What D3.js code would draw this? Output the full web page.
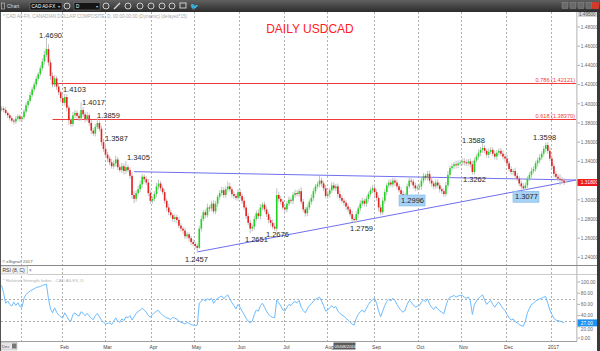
<!DOCTYPE html>
<html><head><meta charset="utf-8">
<script src="https://cdn.jsdelivr.net/npm/d3@7"></script>
<style>
html,body{margin:0;padding:0;background:#fff;overflow:hidden}
svg{display:block;font-family:"Liberation Sans",Arial,sans-serif}
</style></head><body>
<svg id="c" width="600" height="351"></svg>
<script>
// ---------- DATA ----------
const firstOpen = 1.3940;
const closes = [
1.3950,1.3935,1.3905,1.3880,1.3850,1.3825,1.3815,1.3845,1.3870,1.3840,
1.3860,1.3920,1.3985,1.4030,1.4090,1.4150,1.4200,1.4260,1.4310,1.4370,1.4440,1.4510,1.4570,1.4430,1.4290,1.4200,1.4265,1.4180,1.4120,1.4060,
1.4010,1.4070,1.3960,1.3830,1.3790,1.3880,1.3905,1.3875,1.3850,1.3935,1.3890,1.3840,1.3880,1.3800,1.3720,1.3690,1.3760,1.3800,1.3740,1.3600,1.3530,
1.3470,1.3430,1.3390,1.3350,1.3380,1.3420,1.3340,1.3310,1.3350,1.3300,1.3340,1.3310,1.3250,1.3050,1.3010,1.3070,1.3110,1.3160,1.3240,1.3215,1.3180,1.3070,1.2990,
1.3010,1.3060,1.3140,1.3170,1.3120,1.3080,1.2990,1.2920,1.2870,1.2840,1.2800,1.2820,1.2790,1.2730,1.2700,1.2680,1.2620,1.2640,1.2600,1.2560,1.2540,
1.2520,1.2500,1.2700,1.2800,1.2870,1.2840,1.2920,1.2910,1.2960,1.2880,1.2960,1.3030,1.3070,1.3100,1.3050,1.3110,1.3140,1.3110,1.3060,1.3040,1.3020,1.3080,
1.3040,1.2990,1.2920,1.2830,1.2760,1.2700,1.2720,1.2800,1.2860,1.2830,1.2920,1.2950,1.2900,1.2850,1.2790,1.2760,1.2720,1.2700,1.3050,1.3010,1.2980,1.2920,
1.2900,1.2960,1.3000,1.2990,1.3050,1.3070,1.3060,1.3090,1.2980,1.2900,1.2860,1.2920,1.2980,1.3020,1.3090,1.3140,1.3160,1.3200,1.3170,1.3120,1.3040,
1.3060,1.3100,1.3150,1.3120,1.3140,1.3060,1.3020,1.2990,1.2970,1.2930,1.2900,1.2850,1.2800,1.2790,1.2850,1.2910,1.2960,1.2990,1.2960,1.3010,1.3060,1.3100,1.3120,
1.3080,1.3020,1.2920,1.2870,1.2990,1.3080,1.3150,1.3180,1.3160,1.3200,1.3180,1.3140,1.3100,1.3060,1.3030,1.3050,1.3140,1.3200,1.3190,1.3150,1.3120,1.3130,
1.3140,1.3200,1.3250,1.3230,1.3270,1.3200,1.3170,1.3140,1.3180,1.3150,1.3110,1.3090,1.3060,1.3150,1.3260,1.3330,1.3350,1.3370,1.3360,1.3380,1.3390,
1.3400,1.3390,1.3380,1.3400,1.3370,1.3290,1.3410,1.3450,1.3490,1.3520,1.3540,1.3510,1.3470,1.3500,1.3520,1.3480,1.3450,1.3490,1.3510,1.3480,1.3450,1.3430,
1.3380,1.3320,1.3290,1.3300,1.3250,1.3220,1.3170,1.3140,1.3120,1.3150,1.3220,1.3260,1.3300,1.3320,1.3380,1.3410,1.3440,1.3480,1.3530,1.3570,1.3510,1.3430,
1.3350,1.3270,1.3240,1.3220,1.3210,1.3200,1.3180];
const upperWickPips = [
25,20,30,15,20,25,18,30,22,20, 20,25,30,20,35,25,30,28,22,30, 35,40,120,50,30,40,35,25,30,20,
40,33,30,25,20,35,30,25,30,82, 30,25,35,20,30,25,30,59,25,30, 35,57,30,25,35,30,40,25,30,35,
30,65,25,30,35,40,30,35,40,30, 25,30,35,30,25,30,35,40,25,30, 30,25,35,30,20,30,25,30,25,20,
30,25,20,25,30,20,25,30,35,25, 30,40,25,30,35,30,25,30,35,30, 30,50,35,25,30,25,30,35,25,30,
25,30,30,25,35,30,40,35,25,30, 30,25,30,35,40,70,35,30,25,30, 30,35,25,30,35,30,25,40,30,25,
30,25,35,30,25,30,50,30,25,35, 30,25,35,30,25,30,35,25,30,25, 30,25,35,20,30,25,35,30,25,30,
25,30,35,40,30,25,30,35,30,25, 30,35,30,25,30,25,30,35,25,30, 35,30,25,30,25,30,35,30,25,30,
35,30,25,30,35,30,25,30,35,40, 25,30,25,35,30,25,30,35,30,25, 30,35,30,25,35,30,48,30,25,35,
30,25,35,30,25,30,35,30,40,25, 30,25,35,30,25,30,35,30,25,30, 35,30,25,30,35,25,30,28,30,40,
35,30,25,30,45,30,25];
const lowerWickPips = [
20,25,20,30,25,20,30,25,20,25, 30,25,20,30,25,20,30,25,20,25, 25,30,25,35,40,30,25,35,30,40,
35,30,40,50,30,25,30,35,30,25, 30,35,25,30,35,25,30,25,30,35, 30,25,35,30,25,30,35,30,25,30,
35,30,25,30,40,45,30,25,30,35, 30,25,30,35,30,25,30,35,30,25, 30,35,30,25,30,35,30,25,30,35,
30,25,35,30,25,30,43,10,30,25, 30,25,35,30,25,30,35,30,25,30, 30,25,30,35,30,25,30,35,30,25,
30,25,49,30,35,25,30,35,30,25, 30,35,30,25,24,30,35,30,25,30, 30,25,30,35,30,25,30,25,30,35,
30,25,30,35,30,25,30,35,30,25, 30,35,30,25,30,35,30,25,30,35, 30,25,30,31,30,35,30,25,30,35,
30,25,30,35,30,40,30,25,30,35, 30,25,30,35,30,25,30,35,34,30, 25,30,35,30,25,30,35,30,25,30,
30,35,30,25,30,35,30,30,25,30, 30,25,30,35,30,25,30,35,30,25, 30,28,30,25,30,35,30,25,30,35,
30,25,30,35,30,25,30,35,30,25, 30,35,30,25,30,35,43,20,30,25, 30,25,30,35,30,25,30,35,30,25,
30,35,30,25,60,30,25];
const rsiValues = [
94,80,62,66,60,57,64,58,63,56, 55,71,78,81,84,86,88,90,91,92, 94,95,96,70,52,45,54,46,41,38,
36,45,38,32,30,42,45,41,39,47, 44,40,44,39,35,33,40,44,38,32, 28,25,26,27,24,30,36,30,28,34,
31,38,36,40,32,38,44,47,50,53, 50,46,40,37,42,45,48,49,44,41, 38,36,35,33,37,35,34,30,28,27,
25,28,26,24,23,22,23,62,66,69, 66,70,68,71,62,67,71,73,75,70, 74,77,70,63,58,52,60,55,48,42,
35,30,27,30,42,50,48,58,62,55, 48,42,39,37,36,68,63,57,50,48, 55,60,58,63,65,63,67,55,49,45,
52,58,61,66,69,71,73,66,58,48, 50,54,58,54,56,48,44,41,39,35, 32,28,25,23,35,42,47,50,46,53,
60,65,68,71,62,48,38,48,58,65, 69,66,71,67,60,54,49,46,50,60, 67,64,59,55,57,58,64,68,65,70,
60,55,51,56,52,48,46,43,57,68, 73,74,76,73,75,76,76,73,71,73, 66,42,60,66,71,74,77,68,60,64,
67,60,55,61,64,58,53,49,42,36, 32,34,29,27,24,22,21,30,45,53, 60,62,66,68,70,71,73,74,62,50,
42,35,32,31,30,29,27];
const monthLabels = ["","Feb","Mar","Apr","May","Jun","Jul","Aug","Sep","Oct","Nov","Dec","2017"];
const monthStartIndex = [10,30,51,74,95,117,139,160,183,205,226,248,270];
const priceTicks = [1.24,1.26,1.28,1.30,1.32,1.34,1.36,1.38,1.40,1.42,1.44,1.46,1.48];
const rsiTicks = [0,20,40,60,80,100];
const rsiLevels = [30,70];
const fibRatios = ["0.786","0.618"];
const fibValues = [1.42121,1.38370];
const fibStartIndex = 25;
const upperTrend = [{i:65,p:1.3293},{i:282,p:1.3206}];
const lowerTrend = [{i:96,p:1.2457},{i:282,p:1.3206}];
const pivotTexts  = ["1.4690","1.4103","1.4017","1.3859","1.3587","1.3405","1.2457","1.2651","1.2676","1.2759","1.2996","1.3262","1.3077","1.3588","1.3598"];
const pivotIndex  = [18.4,30.1,39.5,46.8,50.7,61.5,90,119.4,129.7,171,196,226.4,251.9,225.9,260.8];
const pivotPrice  = [1.4689,1.4126,1.3991,1.3855,1.3616,1.3418,1.2355,1.2564,1.2616,1.2678,1.2967,1.3189,1.3006,1.3595,1.3626];
const pivotBoxed  = [false,false,false,false,false,false,false,false,false,false,true,false,true,false,false];

// ---------- LAYOUT ----------
const W=600,H=351;
const plotL=1, plotR=577, mainT=12, mainB=264, rsiT=275, rsiB=341;
const svg=d3.select("#c");
const x=d3.scaleLinear().domain([0,276]).range([1.6,564.1]);
const y=d3.scaleLinear().domain([1.24,1.48]).range([257.4,27]);
const yr=d3.scaleLinear().domain([0,100]).range([338,282]);

svg.append("rect").attr("width",W).attr("height",H).attr("fill","#fff");

const defs=svg.append("defs");
defs.append("clipPath").attr("id","mainClip").append("rect").attr("x",plotL).attr("y",mainT).attr("width",plotR-plotL).attr("height",mainB-mainT);
defs.append("clipPath").attr("id","rsiClip").append("rect").attr("x",plotL).attr("y",rsiT).attr("width",plotR-plotL).attr("height",rsiB-rsiT);
const grad=defs.append("linearGradient").attr("id","tb").attr("x1",0).attr("x2",0).attr("y1",0).attr("y2",1);
grad.append("stop").attr("offset","0").attr("stop-color","#606060");
grad.append("stop").attr("offset","1").attr("stop-color","#2c2c2c");

// month gridlines
const gx = monthStartIndex.map(i=>Math.round(x(i)-1)+0.5);
svg.append("g").selectAll("line").data(gx).join("line")
  .attr("x1",d=>d).attr("x2",d=>d).attr("y1",mainT).attr("y2",rsiB)
  .attr("stroke","#9a9a9a").attr("stroke-width",0.8).attr("stroke-dasharray","2,2");

// subtitle
svg.append("text").attr("x",3).attr("y",18).attr("font-size",4.6).attr("fill","#aaa")
  .text("* CAD A0-FX, CANADIAN DOLLAR COMPOSITE, D, 00:00-00:00 (Dynamic) (delayed*15)");

// title
svg.append("text").attr("x",310).attr("y",32.5).attr("text-anchor","middle").attr("font-size",12)
  .attr("fill","#ff2020").text("DAILY USDCAD");

const main=svg.append("g").attr("clip-path","url(#mainClip)");

// fib lines
fibValues.forEach((v,k)=>{
  const fy=Math.round(y(v))+0.5;
  main.append("line").attr("x1",x(fibStartIndex)).attr("x2",plotR).attr("y1",fy).attr("y2",fy)
    .attr("stroke","#f03c3c").attr("stroke-width",1);
  svg.append("text").attr("x",575).attr("y",fy-1.5).attr("text-anchor","end").attr("font-size",5.6)
    .attr("fill","#f03c3c").text(fibRatios[k]+" ("+v.toFixed(5)+")");
});

// trend lines
const tl=d3.line().x(d=>x(d.i)).y(d=>y(d.p));
[upperTrend,lowerTrend].forEach(t=>{
  main.append("path").attr("d",tl(t)).attr("fill","none").attr("stroke","#6f6ff0").attr("stroke-width",1);
});

// candles
const candles=closes.map((c,k)=>{
  const o=k?closes[k-1]:firstOpen;
  return {i:k,o:o,c:c,h:Math.max(o,c)+upperWickPips[k]/1e4,l:Math.min(o,c)-lowerWickPips[k]/1e4};
});
main.append("g").selectAll("line").data(candles).join("line")
  .attr("x1",d=>x(d.i)).attr("x2",d=>x(d.i)).attr("y1",d=>y(d.h)).attr("y2",d=>y(d.l))
  .attr("stroke","#c2c2c2").attr("stroke-width",1);
main.append("g").selectAll("rect").data(candles).join("rect")
  .attr("x",d=>x(d.i)-0.8).attr("width",1.6)
  .attr("y",d=>y(Math.max(d.o,d.c)))
  .attr("height",d=>Math.max(1,Math.abs(y(d.o)-y(d.c))))
  .attr("fill",d=>d.c>=d.o?"#22d422":"#e52222");

// pivot labels
pivotTexts.forEach((t,k)=>{
  const tx=x(pivotIndex[k]), ty=y(pivotPrice[k]);
  if(pivotBoxed[k]){
    svg.append("rect").attr("x",tx-2).attr("y",ty-8).attr("width",26).attr("height",11)
      .attr("fill","#a6d2f6").attr("stroke","#7db6e8").attr("stroke-width",0.6);
  }
  svg.append("text").attr("x",tx).attr("y",ty).attr("font-size",7.5).attr("fill","#262626").text(t);
});

// right axis area
const last=closes[closes.length-1];
svg.append("rect").attr("x",plotR).attr("y",mainT).attr("width",W-plotR).attr("height",H-mainT).attr("fill","#fff");
svg.append("rect").attr("x",plotR-1).attr("y",mainT).attr("width",1.6).attr("height",rsiB-mainT).attr("fill","#cfcfcf");
const yAxis=svg.append("g");
priceTicks.forEach(v=>{
  yAxis.append("line").attr("x1",plotR+0.5).attr("x2",plotR+3).attr("y1",y(v)).attr("y2",y(v)).attr("stroke","#777").attr("stroke-width",0.6);
  if(Math.abs(y(v)-y(last))>6)
    yAxis.append("text").attr("x",plotR+3.8).attr("y",y(v)+1.7).attr("font-size",4.8).attr("fill","#666").text(d3.format(".5f")(v));
});
// top partial label
svg.append("rect").attr("x",plotR+1).attr("y",12).attr("width",19).attr("height",5).attr("fill","#d6d6d6");
svg.append("text").attr("x",plotR+2).attr("y",16.2).attr("font-size",4.6).attr("fill","#555").text("1.49500");
// last price label
svg.append("rect").attr("x",plotR+0.5).attr("y",y(last)-3.5).attr("width",21).attr("height",7).attr("fill","#ee1c1c");
svg.append("text").attr("x",plotR+3.8).attr("y",y(last)+1.7).attr("font-size",4.8).attr("fill","#fff").text(d3.format(".5f")(last));

// bottom of main pane / RSI tab
svg.append("text").attr("x",2).attr("y",263).attr("font-size",4.3).attr("fill","#555").text("© eSignal, 2017");
svg.append("line").attr("x1",0).attr("x2",W).attr("y1",265.5).attr("y2",265.5).attr("stroke","#8a8a8a").attr("stroke-width",1);
svg.append("rect").attr("x",0.5).attr("y",266).attr("width",27).attr("height",8).attr("fill","#f2f2f2").attr("stroke","#b5b5b5").attr("stroke-width",0.6);
svg.append("text").attr("x",2.5).attr("y",272).attr("font-size",5).attr("fill","#333").text("RSI (8, C)");
svg.append("text").attr("x",29).attr("y",271.5).attr("font-size",4.5).attr("fill","#666").text("×");
svg.append("line").attr("x1",28).attr("x2",W).attr("y1",274.5).attr("y2",274.5).attr("stroke","#bdbdbd").attr("stroke-width",0.8);
svg.append("text").attr("x",3).attr("y",281.5).attr("font-size",4.4).attr("fill","#b0b0b0").text("* Relative Strength Index - CAD A0-FX, D");

// RSI levels
svg.append("g").selectAll("line").data(rsiLevels).join("line")
  .attr("x1",plotL).attr("x2",plotR).attr("y1",d=>Math.round(yr(d))+0.5).attr("y2",d=>Math.round(yr(d))+0.5)
  .attr("stroke","#999").attr("stroke-width",0.8).attr("stroke-dasharray","2,2");
// RSI line
const rl=d3.line().x((d,k)=>x(k)).y(d=>yr(d));
svg.append("g").attr("clip-path","url(#rsiClip)").append("path").attr("d",rl(rsiValues))
  .attr("fill","none").attr("stroke","#6cbcff").attr("stroke-width",1);
// RSI axis
const lastR=rsiValues[rsiValues.length-1];
const ra=svg.append("g");
rsiTicks.forEach(v=>{
  ra.append("line").attr("x1",plotR+0.5).attr("x2",plotR+3).attr("y1",yr(v)).attr("y2",yr(v)).attr("stroke","#777").attr("stroke-width",0.6);
  const ty = Math.abs(yr(v)-yr(lastR))<7 ? yr(lastR)+8.6 : yr(v)+1.7;
  ra.append("text").attr("x",plotR+3.8).attr("y",ty).attr("font-size",4.8).attr("fill","#666").text(d3.format(".2f")(v));
});
svg.append("rect").attr("x",plotR+0.5).attr("y",yr(lastR)-3.5).attr("width",21).attr("height",7).attr("fill","#1e90f0");
svg.append("text").attr("x",plotR+3.8).attr("y",yr(lastR)+1.7).attr("font-size",4.8).attr("fill","#fff").text(d3.format(".2f")(lastR));

// bottom axis
svg.append("line").attr("x1",0).attr("x2",plotR).attr("y1",rsiB+0.5).attr("y2",rsiB+0.5).attr("stroke","#888").attr("stroke-width",0.8);
svg.append("g").selectAll("text").data(monthLabels).join("text")
  .attr("x",(d,k)=>gx[k]+2).attr("y",348.5).attr("text-anchor","middle").attr("font-size",5).attr("fill","#444").text(d=>d);
svg.append("rect").attr("x",1).attr("y",342.5).attr("width",16).attr("height",7.5).attr("fill","#e6e6e6").attr("stroke","#aaa").attr("stroke-width",0.5);
svg.append("text").attr("x",2).attr("y",348.3).attr("font-size",4.3).attr("fill","#555").text("Dec");
svg.append("rect").attr("x",12).attr("y",343.5).attr("width",4.5).attr("height",5).attr("fill","#777");
svg.append("rect").attr("x",gx[7]+6).attr("y",342.5).attr("width",22).attr("height",7).attr("fill","#5a5a5a");
svg.append("text").attr("x",gx[7]+7).attr("y",348).attr("font-size",4.4).attr("fill","#fff").text("05/08/2016");

// frames
svg.append("rect").attr("x",0).attr("y",mainT).attr("width",1).attr("height",H-mainT).attr("fill","#555");
svg.append("rect").attr("x",597).attr("y",mainT).attr("width",3).attr("height",H-mainT).attr("fill","#3a3a3a");

// toolbar
svg.append("rect").attr("x",0).attr("y",0).attr("width",W).attr("height",12).attr("fill","url(#tb)");
svg.append("rect").attr("x",1.5).attr("y",3).attr("width",3).attr("height",6).attr("fill","none").attr("stroke","#ccc").attr("stroke-width",0.6);
svg.append("text").attr("x",7).attr("y",8).attr("font-size",5).attr("fill","#ddd").text("Chart");
svg.append("rect").attr("x",30).attr("y",2.5).attr("width",32).attr("height",7.5).attr("fill","#151515").attr("stroke","#888").attr("stroke-width",0.5);
svg.append("text").attr("x",31.5).attr("y",8).attr("font-size",4.6).attr("fill","#fff").text("CAD A0-FX");
svg.append("text").attr("x",58).attr("y",8).attr("font-size",4).attr("fill","#ccc").text("▾");
svg.append("rect").attr("x",74).attr("y",2.5).attr("width",26).attr("height",7.5).attr("fill","#151515").attr("stroke","#888").attr("stroke-width",0.5);
svg.append("text").attr("x",76).attr("y",8).attr("font-size",4.6).attr("fill","#fff").text("D");
svg.append("text").attr("x",96).attr("y",8).attr("font-size",4).attr("fill","#ccc").text("▾");
[67,106,128,140,151,162,172].forEach(cx=>{
  svg.append("circle").attr("cx",cx).attr("cy",6).attr("r",3).attr("fill","none").attr("stroke","#d8d8d8").attr("stroke-width",0.9);
});
svg.append("line").attr("x1",114).attr("x2",120).attr("y1",9).attr("y2",3).attr("stroke","#d8d8d8").attr("stroke-width",1.2);
svg.append("rect").attr("x",180).attr("y",3).attr("width",6).attr("height",5).attr("fill","none").attr("stroke","#d8d8d8").attr("stroke-width",0.9);
svg.append("text").attr("x",190).attr("y",9).attr("font-size",7).attr("fill","#d8d8d8").text("🐦");
[562,570,578,586].forEach(bx=>{
  svg.append("rect").attr("x",bx).attr("y",2.5).attr("width",6).attr("height",6).attr("fill","#6a6a6a").attr("stroke","#999").attr("stroke-width",0.4);
});
svg.append("rect").attr("x",592).attr("y",2).attr("width",7).attr("height",7).attr("rx",1).attr("fill","#d23a2a");
</script>
</body></html>
